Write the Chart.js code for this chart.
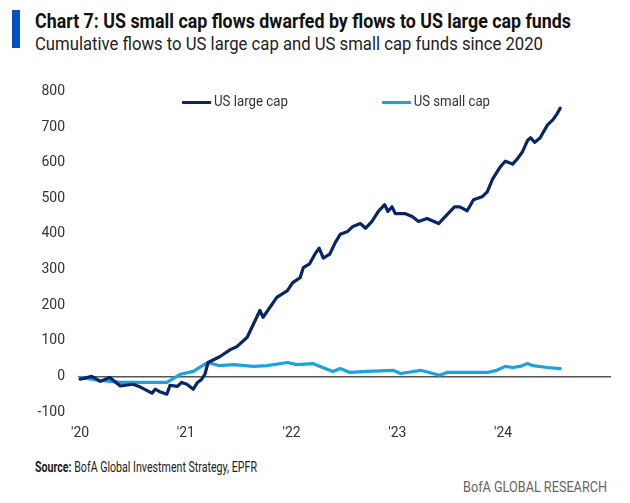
<!DOCTYPE html>
<html>
<head>
<meta charset="utf-8">
<script src="https://cdn.jsdelivr.net/npm/chart.js@4.4.1/dist/chart.umd.min.js"></script>
<style>
  body { margin: 0; width: 630px; height: 503px; background: #fff; position: relative; overflow: hidden;
         font-family: Roboto, "Noto Sans", sans-serif; }
  .fit { position: absolute; white-space: nowrap; transform-origin: 0 0; }
  .bar { position: absolute; left: 12px; top: 10px; width: 8px; height: 38px; background: #0052c4; }
  .title { left: 35px; top: 9px; font-size: 20px; font-weight: bold; color: #111; }
  .subtitle { left: 35px; top: 32px; font-size: 19px; color: #222; }
  .legend { top: 92px; font-size: 15px; color: #333; }
  .legend span.swatch { display: inline-block; width: 33px; height: 3px; vertical-align: middle; margin-right: 3px; border-radius: 1px; }
  .source { left: 35px; top: 459px; font-size: 14px; color: #222; }
  .brand { left: 463px; top: 479px; font-size: 14px; color: #666; }
  #wrap { position: absolute; left: 0; top: 70px; width: 630px; height: 372px; }
</style>
</head>
<body>
<div class="bar"></div>
<div class="fit title" data-w="536">Chart 7: US small cap flows dwarfed by flows to US large cap funds</div>
<div class="fit subtitle" data-w="508">Cumulative flows to US large cap and US small cap funds since 2020</div>
<div id="wrap"><canvas id="flowChart" width="630" height="372"></canvas></div>
<div class="fit legend" style="left:182px" data-w="106"><span class="swatch" style="background:#0a2468"></span>US large cap</div>
<div class="fit legend" style="left:382px" data-w="108"><span class="swatch" style="background:#1aa3e0"></span>US small cap</div>
<div class="fit source" data-w="222"><b>Source:</b> BofA Global Investment Strategy, EPFR</div>
<div class="fit brand" data-w="144">BofA GLOBAL RESEARCH</div>
<script>
// x positions are decimal years, values in $bn
const largeCapDates = [2020.00, 2020.11, 2020.19, 2020.28, 2020.38, 2020.50, 2020.57, 2020.68, 2020.71, 2020.76,
  2020.82, 2020.85, 2020.92, 2020.96, 2021.01, 2021.07, 2021.11, 2021.15, 2021.18, 2021.21,
  2021.32, 2021.42, 2021.48, 2021.58, 2021.70, 2021.73, 2021.86, 2021.96, 2022.01, 2022.08,
  2022.11, 2022.17, 2022.22, 2022.26, 2022.30, 2022.36, 2022.41, 2022.46, 2022.53, 2022.58,
  2022.65, 2022.70, 2022.76, 2022.82, 2022.88, 2022.91, 2022.95, 2022.98, 2023.07, 2023.14,
  2023.20, 2023.28, 2023.39, 2023.47, 2023.54, 2023.59, 2023.66, 2023.72, 2023.80, 2023.85,
  2023.90, 2023.97, 2024.02, 2024.09, 2024.13, 2024.18, 2024.23, 2024.26, 2024.30, 2024.35,
  2024.42, 2024.47, 2024.51, 2024.54];
const largeCapFlows = [-8, 0, -14, -3, -27, -22, -30, -47, -36, -44,
  -50, -25, -28, -17, -22, -36, -17, -8, 6, 39,
  55, 75, 83, 110, 185, 166, 222, 241, 263, 277,
  305, 316, 343, 360, 332, 343, 374, 399, 407, 421,
  429, 416, 435, 463, 482, 463, 476, 457, 457, 449,
  435, 443, 429, 454, 476, 476, 465, 496, 504, 518,
  554, 587, 604, 596, 609, 629, 662, 670, 657, 670,
  706, 720, 737, 753];

const smallCapDates = [2020.00, 2020.19, 2020.38, 2020.60, 2020.82, 2020.88, 2020.95, 2021.07, 2021.13, 2021.21,
  2021.32, 2021.45, 2021.64, 2021.77, 2021.96, 2022.05, 2022.20, 2022.27, 2022.39, 2022.46,
  2022.55, 2022.71, 2022.96, 2023.03, 2023.22, 2023.40, 2023.47, 2023.72, 2023.85, 2023.94,
  2024.02, 2024.09, 2024.16, 2024.23, 2024.28, 2024.42, 2024.54];
const smallCapFlows = [-3, -11, -17, -17, -17, -6, 6, 14, 25, 39,
  30, 33, 28, 30, 39, 33, 36, 28, 14, 22,
  11, 14, 17, 8, 17, 3, 11, 11, 11, 17,
  28, 25, 28, 36, 30, 25, 22];

const yearTicks = [2020, 2021, 2022, 2023, 2024];
const yearLabels = ["'20", "'21", "'22", "'23", "'24"];

const FONT = "Roboto, 'Noto Sans', sans-serif";

// squeeze the html text to the widths of the condensed face in the original
document.querySelectorAll(".fit").forEach(el => {
  const w = el.getBoundingClientRect().width;
  el.style.transform = `scaleX(${el.dataset.w / w})`;
});

function toPoints(xs, ys) {
  return xs.map((x, i) => ({ x: x, y: ys[i] }));
}

new Chart(document.getElementById("flowChart"), {
  type: "line",
  data: {
    datasets: [
      { label: "US large cap", data: toPoints(largeCapDates, largeCapFlows), borderColor: "#0a2468", borderWidth: 3.2,
        pointRadius: 0, tension: 0, borderJoinStyle: "round", borderCapStyle: "round" },
      { label: "US small cap", data: toPoints(smallCapDates, smallCapFlows), borderColor: "#1aa3e0", borderWidth: 3.2,
        pointRadius: 0, tension: 0, borderJoinStyle: "round", borderCapStyle: "round" },
    ],
  },
  options: {
    responsive: false,
    animation: false,
    layout: { padding: { top: 18, right: 19, left: 0, bottom: 0 } },
    plugins: { legend: { display: false }, tooltip: { enabled: false } },
    scales: {
      x: {
        type: "linear",
        min: 2019.98,
        max: 2025.02,
        afterBuildTicks: s => { s.ticks = yearTicks.map(v => ({ value: v })); },
        afterFit: s => { s.height = 30; },
        ticks: {
          padding: 13,
          color: "#333",
          font: { family: FONT, size: 14 },
          maxRotation: 0,
          callback: v => yearLabels[yearTicks.indexOf(v)] ?? "",
        },
        grid: { display: false, drawTicks: false },
        border: { display: false },
      },
      y: {
        min: -100,
        max: 800,
        afterFit: s => { s.width = 78; },
        ticks: { stepSize: 100, padding: 13, color: "#333", font: { family: FONT, size: 14 } },
        grid: {
          drawTicks: false,
          color: c => (c.tick && c.tick.value === 0 ? "#555" : "rgba(0,0,0,0)"),
          lineWidth: 1.6,
        },
        border: { display: false },
      },
    },
  },
});
</script>
</body>
</html>
